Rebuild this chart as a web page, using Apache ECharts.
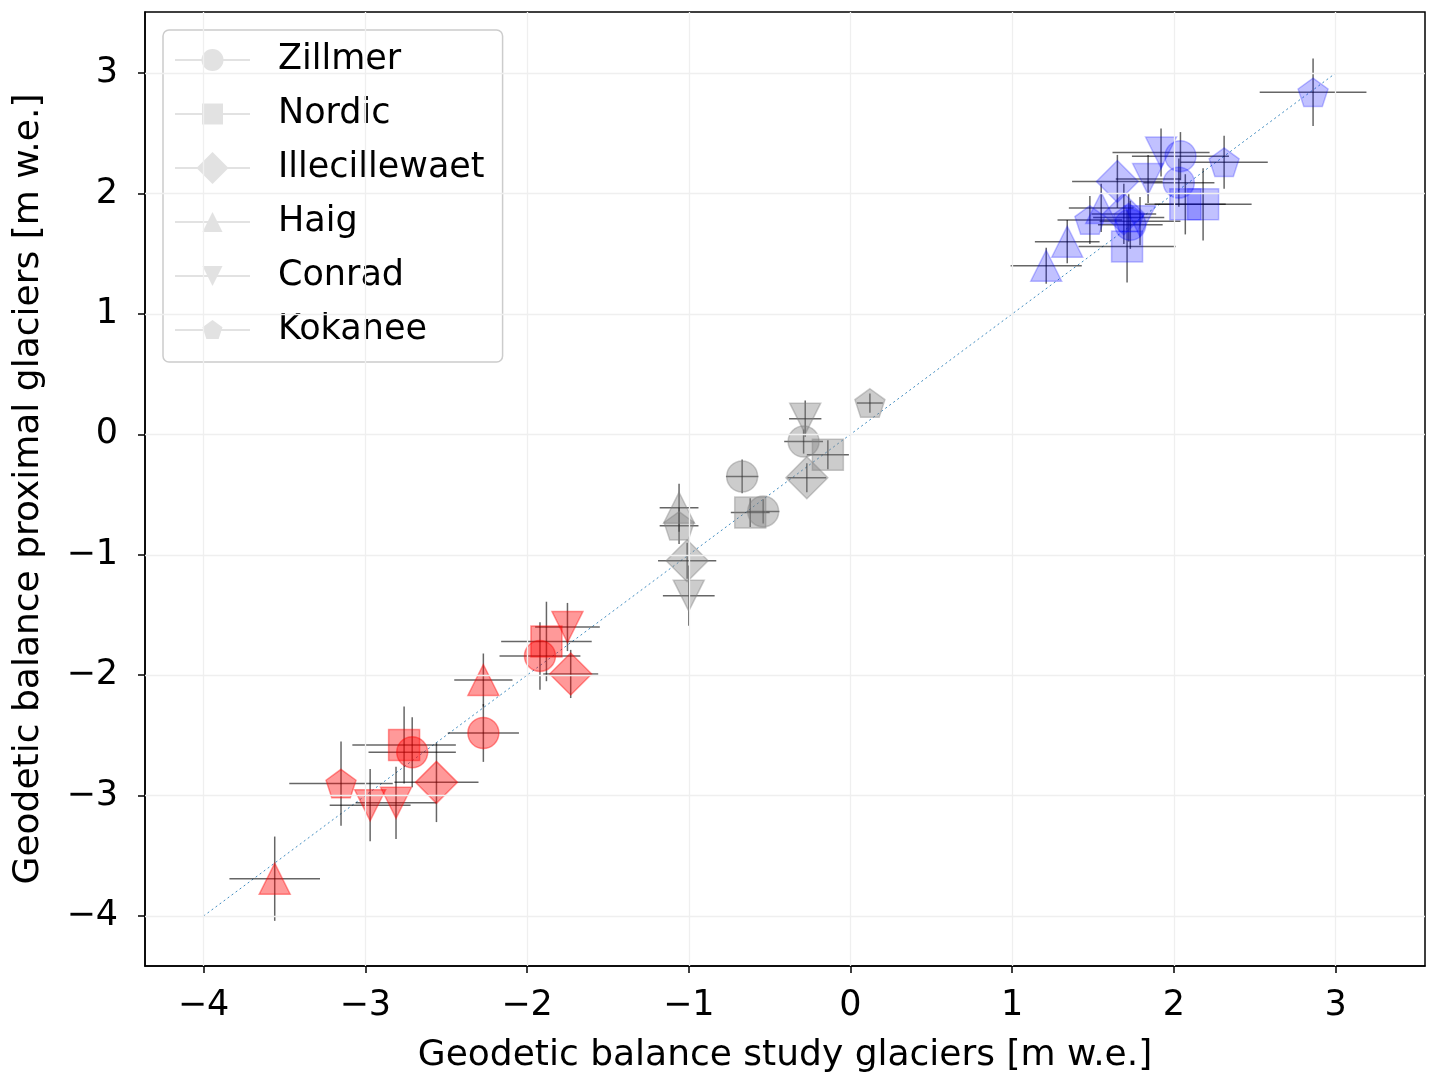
<!DOCTYPE html>
<html>
<head>
<meta charset="utf-8">
<script src="https://cdn.jsdelivr.net/npm/echarts@6/dist/echarts.min.js"></script>
<style>
html,body{margin:0;padding:0;background:#fff;}
#chart{width:1432px;height:1076px;}
</style>
</head>
<body>
<div id="chart"></div>
<script>
// ---------------- data ----------------
const glaciers = ['Zillmer', 'Nordic', 'Illecillewaet', 'Haig', 'Conrad', 'Kokanee'];
const xTicks = [-4, -3, -2, -1, 0, 1, 2, 3];
const yTicks = [-4, -3, -2, -1, 0, 1, 2, 3];
const oneToOne = [[-4, -4], [3, 3]];
const xLabel = 'Geodetic balance study glaciers [m w.e.]';
const yLabel = 'Geodetic balance proximal glaciers [m w.e.]';

// [glacier, study balance, proximal balance, x error, y error]
const negativePoints = [
  ['Haig', -3.56, -3.69, 0.28, 0.35],
  ['Kokanee', -3.15, -2.90, 0.32, 0.35],
  ['Conrad', -2.97, -3.08, 0.25, 0.30],
  ['Conrad', -2.81, -3.06, 0.25, 0.30],
  ['Nordic', -2.76, -2.58, 0.32, 0.32],
  ['Zillmer', -2.71, -2.64, 0.27, 0.29],
  ['Illecillewaet', -2.56, -2.89, 0.26, 0.33],
  ['Zillmer', -2.27, -2.48, 0.22, 0.24],
  ['Haig', -2.27, -2.04, 0.18, 0.22],
  ['Nordic', -1.88, -1.72, 0.28, 0.33],
  ['Zillmer', -1.92, -1.84, 0.25, 0.28],
  ['Conrad', -1.75, -1.60, 0.20, 0.20],
  ['Illecillewaet', -1.73, -1.99, 0.17, 0.20]
];
const nearZeroPoints = [
  ['Haig', -1.06, -0.61, 0.12, 0.20],
  ['Kokanee', -1.06, -0.76, 0.12, 0.15],
  ['Illecillewaet', -1.01, -1.05, 0.18, 0.15],
  ['Conrad', -1.00, -1.34, 0.16, 0.25],
  ['Zillmer', -0.67, -0.35, 0.10, 0.14],
  ['Nordic', -0.62, -0.65, 0.12, 0.12],
  ['Zillmer', -0.54, -0.64, 0.10, 0.10],
  ['Conrad', -0.28, 0.13, 0.10, 0.15],
  ['Zillmer', -0.29, -0.06, 0.12, 0.10],
  ['Nordic', -0.14, -0.17, 0.13, 0.12],
  ['Illecillewaet', -0.27, -0.36, 0.12, 0.12],
  ['Kokanee', 0.12, 0.26, 0.08, 0.08]
];
const positivePoints = [
  ['Haig', 1.21, 1.40, 0.22, 0.15],
  ['Haig', 1.34, 1.60, 0.20, 0.18],
  ['Kokanee', 1.48, 1.78, 0.20, 0.20],
  ['Haig', 1.55, 1.88, 0.20, 0.20],
  ['Illecillewaet', 1.65, 2.10, 0.28, 0.22],
  ['Illecillewaet', 1.69, 1.83, 0.20, 0.25],
  ['Kokanee', 1.72, 1.80, 0.22, 0.20],
  ['Zillmer', 1.73, 1.74, 0.20, 0.20],
  ['Nordic', 1.71, 1.56, 0.30, 0.30],
  ['Conrad', 1.79, 1.77, 0.25, 0.20],
  ['Conrad', 1.84, 2.12, 0.20, 0.20],
  ['Conrad', 1.92, 2.34, 0.30, 0.20],
  ['Zillmer', 2.04, 2.31, 0.30, 0.20],
  ['Zillmer', 2.03, 2.09, 0.22, 0.20],
  ['Nordic', 2.07, 1.91, 0.25, 0.25],
  ['Nordic', 2.18, 1.91, 0.30, 0.30],
  ['Kokanee', 2.31, 2.26, 0.27, 0.22],
  ['Kokanee', 2.86, 2.84, 0.33, 0.28]
];

// ---------------- styling ----------------
const FONT = "'DejaVu Sans', 'Liberation Sans', sans-serif";
const groups = [
  { pts: negativePoints, color: 'rgba(255,0,0,0.5)' },
  { pts: nearZeroPoints, color: 'rgba(128,128,128,0.5)' },
  { pts: positivePoints, color: 'rgba(0,0,255,0.3)' }
];
const PENT = 'path://M50,0 L97.55,34.55 L79.39,90.45 L20.61,90.45 L2.45,34.55 Z';
const markerDef = {
  Zillmer: { symbol: 'circle', size: 31 },
  Nordic: { symbol: 'rect', size: 31 },
  Illecillewaet: { symbol: 'diamond', size: 42 },
  Haig: { symbol: 'triangle', size: 31 },
  Conrad: { symbol: 'path://M0,0 L2,0 L1,2 Z', size: 31 },
  Kokanee: { symbol: PENT, size: 30 }
};
const BBOX = ' M0,0 Z M75,34 Z';
const LINE = 'M0,16 L75,16 L75,18 L0,18 Z ';
const legendIcons = {
  Zillmer: 'path://' + LINE + 'M26.5,17 A11,11 0 1 1 48.5,17 A11,11 0 1 1 26.5,17 Z' + BBOX,
  Nordic: 'path://' + LINE + 'M27,6.5 L48,6.5 L48,27.5 L27,27.5 Z' + BBOX,
  Illecillewaet: 'path://' + LINE + 'M37.5,1 L53.5,17 L37.5,33 L21.5,17 Z' + BBOX,
  Haig: 'path://' + LINE + 'M37.5,7 L47.5,27 L27.5,27 Z' + BBOX,
  Conrad: 'path://' + LINE + 'M27.5,7 L47.5,7 L37.5,27 Z' + BBOX,
  Kokanee: 'path://' + LINE + 'M37.5,7 L47.49,14.26 L43.67,25.99 L31.33,25.99 L27.51,14.26 Z' + BBOX
};
const minus = v => String(v).replace('-', '\u2212');

// ---------------- series ----------------
const scatterSeries = glaciers.map(g => {
  const data = [];
  groups.forEach(gr => {
    gr.pts.filter(p => p[0] === g).forEach(p => {
      data.push({
        value: [p[1], p[2]],
        itemStyle: { color: gr.color, borderColor: gr.color, borderWidth: 1.5 }
      });
    });
  });
  return {
    name: g,
    type: 'scatter',
    symbol: markerDef[g].symbol,
    symbolSize: markerDef[g].size,
    symbolKeepAspect: true,
    itemStyle: { color: 'rgba(128,128,128,0.35)' },
    emphasis: { disabled: true },
    z: 4,
    data
  };
});

const allPoints = [].concat(negativePoints, nearZeroPoints, positivePoints)
  .map(p => [p[1], p[2], p[3], p[4]]);

const errorSeries = {
  type: 'custom',
  name: 'errors',
  silent: true,
  z: 3,
  encode: { x: 0, y: 1 },
  data: allPoints,
  renderItem: (params, api) => {
    const x = api.value(0), y = api.value(1), ex = api.value(2), ey = api.value(3);
    const l = api.coord([x - ex, y]), r = api.coord([x + ex, y]);
    const t = api.coord([x, y + ey]), b = api.coord([x, y - ey]);
    const style = { stroke: 'rgba(0,0,0,0.6)', lineWidth: 1.5 };
    return {
      type: 'group',
      children: [
        { type: 'line', shape: { x1: l[0], y1: l[1], x2: r[0], y2: r[1] }, style },
        { type: 'line', shape: { x1: t[0], y1: t[1], x2: b[0], y2: b[1] }, style }
      ]
    };
  }
};

const gridSeries = {
  type: 'line',
  name: 'grid',
  data: [],
  silent: true,
  z: 0,
  markLine: {
    silent: true,
    symbol: ['none', 'none'],
    label: { show: false },
    animation: false,
    lineStyle: { color: '#efefef', width: 1.3, type: 'solid' },
    data: [].concat(xTicks.map(v => ({ xAxis: v })), yTicks.map(v => ({ yAxis: v })))
  }
};

const diagSeries = {
  type: 'line',
  name: '1:1',
  data: oneToOne,
  showSymbol: false,
  silent: true,
  z: 1,
  lineStyle: { color: 'rgba(31,119,180,0.85)', width: 1, type: [2, 3] }
};

const option = {
  animation: false,
  backgroundColor: '#ffffff',
  grid: {
    left: 145, top: 12, width: 1280, height: 954,
    outerBoundsMode: 'none', containLabel: false,
    show: true, borderColor: '#000', borderWidth: 1.5, backgroundColor: 'transparent'
  },
  xAxis: {
    type: 'value', min: -4.362, max: 3.552,
    name: xLabel, nameLocation: 'middle', nameGap: 72,
    nameTextStyle: { fontSize: 36, color: '#000', fontFamily: FONT },
    axisLine: { show: true, onZero: false, lineStyle: { color: '#000', width: 1.5 } },
    axisTick: { show: true, customValues: xTicks, length: 7, lineStyle: { color: '#000', width: 1.5 } },
    axisLabel: { customValues: xTicks, fontSize: 35, color: '#000', fontFamily: FONT, margin: 22, formatter: minus },
    splitLine: { show: false }
  },
  yAxis: {
    type: 'value', min: -4.415, max: 3.507,
    name: yLabel, nameLocation: 'middle', nameGap: 98,
    nameTextStyle: { fontSize: 36, color: '#000', fontFamily: FONT },
    axisLine: { show: true, onZero: false, lineStyle: { color: '#000', width: 1.5 } },
    axisTick: { show: true, customValues: yTicks, length: 7, lineStyle: { color: '#000', width: 1.5 } },
    axisLabel: { customValues: yTicks, fontSize: 35, color: '#000', fontFamily: FONT, margin: 27, padding: [4, 0, 0, 0], formatter: minus },
    splitLine: { show: false }
  },
  legend: {
    orient: 'vertical',
    left: 163, top: 30,
    itemWidth: 75, itemHeight: 34, itemGap: 18,
    padding: [12, 18, 14, 12],
    borderColor: '#cccccc', borderWidth: 1.5, borderRadius: 6,
    backgroundColor: 'rgba(255,255,255,0.8)',
    selectedMode: false,
    textStyle: { fontSize: 35, color: '#000', fontFamily: FONT, lineHeight: 36, padding: [0, 0, 0, 23] },
    itemStyle: { color: 'rgba(150,150,150,0.35)', borderWidth: 0 },
    data: glaciers.map(g => ({ name: g, icon: legendIcons[g] }))
  },
  series: [gridSeries, diagSeries, errorSeries].concat(scatterSeries)
};

const chart = echarts.init(document.getElementById('chart'), null, { renderer: 'canvas' });
chart.setOption(option);
</script>
</body>
</html>
